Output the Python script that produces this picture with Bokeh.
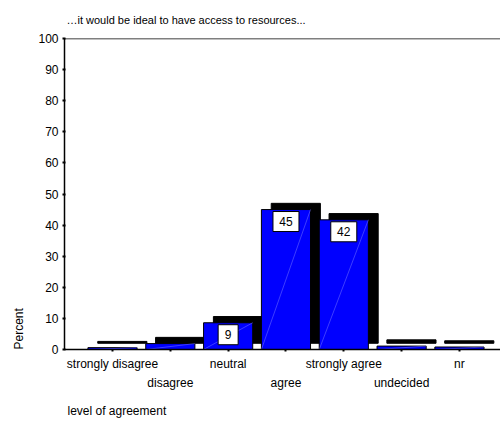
from bokeh.plotting import figure
from bokeh.models import FixedTicker, Span, ColumnDataSource, Title
from bokeh.core.properties import value
from bokeh.embed import file_html
from bokeh.resources import INLINE

# ---- data ----
categories = ["strongly disagree", "disagree", "neutral", "agree",
              "strongly agree", "undecided", "nr"]
percents = [0.6, 1.9, 8.6, 45.0, 41.7, 1.1, 0.8]
shown_labels = [None, None, "9", "45", "42", None, None]
title_text = "\u2026it would be ideal to have access to resources..."
x_title = "level of agreement"
y_title = "Percent"
y_ticks = list(range(0, 101, 10))

FONT = "Liberation Sans"
xs = list(range(1, len(categories) + 1))
bar_w = 0.85
dx = 0.17      # depth shift (category units)
dy = 2.0       # depth shift (percent units)

p = figure(width=500, height=427, output_backend="svg", toolbar_location=None,
           x_range=(0.17, 7.71), y_range=(0, 100))
p.min_border_left = 64
p.min_border_right = 0
p.min_border_top = 38
p.min_border_bottom = 78
p.outline_line_color = None
p.xgrid.visible = False
p.ygrid.visible = False
p.background_fill_color = "white"
p.border_fill_color = "white"

# back (shadow) faces
p.quad(left=[x - bar_w / 2 + dx for x in xs], right=[x + bar_w / 2 + dx for x in xs],
       bottom=[dy] * len(xs), top=[v + dy for v in percents],
       fill_color="black", line_color="black", line_width=1)
# front faces
p.quad(left=[x - bar_w / 2 for x in xs], right=[x + bar_w / 2 for x in xs],
       bottom=[0] * len(xs), top=percents,
       fill_color="#0000FF", line_color="black", line_width=1)
# faint 3D diagonals
p.segment(x0=[x - bar_w / 2 for x in xs], y0=[0] * len(xs),
          x1=[x + bar_w / 2 for x in xs], y1=percents,
          line_color="#7a7aff", line_width=0.5)

# value labels
lx, ly, lt, lw = [], [], [], []
for x, v, t in zip(xs, percents, shown_labels):
    if t:
        lx.append(x); ly.append(v - 3.85); lt.append(t); lw.append(26 if len(t) > 1 else 20)
src = ColumnDataSource(dict(x=lx, y=ly, t=lt, w=lw))
p.rect(x="x", y="y", width="w", height=20, width_units="screen", height_units="screen",
       source=src, fill_color="white", line_color="black", line_width=1)
p.text(x="x", y="y", text="t", source=src, text_align="center", text_baseline="middle",
       text_font=value(FONT), text_font_size="12px", text_color="black")

# axes
xax = p.xaxis[0]
xax.ticker = FixedTicker(ticks=xs)
xax.major_label_overrides = {x: (c if i % 2 == 0 else "\n" + c)
                             for i, (x, c) in enumerate(zip(xs, categories))}
xax.major_label_text_font = FONT
xax.major_label_text_font_size = "12px"
xax.major_label_text_color = "black"
xax.major_label_text_line_height = 1.38
xax.major_label_standoff = 5
xax.major_tick_out = 2
xax.major_tick_in = 0
xax.major_tick_line_width = 2
xax.minor_tick_line_color = None
xax.axis_line_color = "black"
xax.axis_line_width = 1.5

yax = p.yaxis[0]
yax.ticker = FixedTicker(ticks=y_ticks)
yax.major_label_text_font = FONT
yax.major_label_text_font_size = "12px"
yax.major_label_text_color = "black"
yax.major_label_standoff = 4
yax.major_tick_out = 2
yax.major_tick_in = 1
yax.major_tick_line_width = 2
yax.minor_tick_line_color = None
yax.axis_line_color = "black"
yax.axis_line_width = 1.5

p.add_layout(Span(location=100, dimension="width", line_color="black", line_width=1.5))

# texts
p.add_layout(Title(text=title_text, align="left", offset=2, standoff=22, vertical_align="top",
                   text_font=FONT, text_font_size="11px", text_font_style="normal",
                   text_color="black"), "above")
p.add_layout(Title(text=y_title, align="left", standoff=19,
                   text_font=FONT, text_font_size="12px", text_font_style="normal",
                   text_color="black"), "left")
p.add_layout(Title(text=x_title, align="left", offset=3, standoff=19,
                   text_font=FONT, text_font_size="12px", text_font_style="normal",
                   text_color="black"), "below")

open("out.html", "w").write(file_html(p, INLINE))
